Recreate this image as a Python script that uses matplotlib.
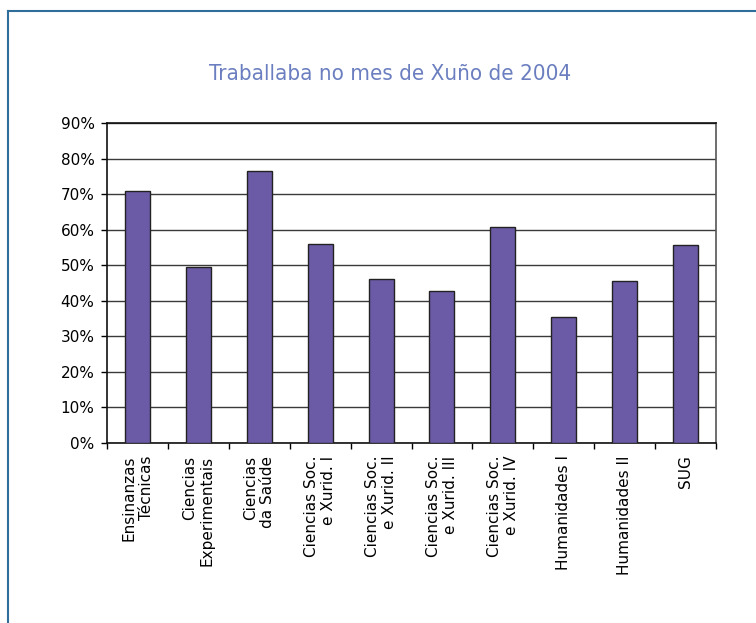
import matplotlib
matplotlib.use("Agg")
import matplotlib.pyplot as plt
from matplotlib.lines import Line2D
from matplotlib.ticker import FuncFormatter
from matplotlib import font_manager

# Chart data
categories = ["Ensinanzas\nTécnicas", "Ciencias\nExperimentais", "Ciencias\nda Saúde",
              "Ciencias Soc.\ne Xurid. I", "Ciencias Soc.\ne Xurid. II",
              "Ciencias Soc.\ne Xurid. III", "Ciencias Soc.\ne Xurid. IV",
              "Humanidades I", "Humanidades II", "SUG"]
values = [70.9, 49.4, 76.5, 55.9, 46.1, 42.7, 60.7, 35.4, 45.5, 55.6]
yticks = [0, 10, 20, 30, 40, 50, 60, 70, 80, 90]

title = "Traballaba no mes de Xuño de 2004"

fig = plt.figure(figsize=(7.56, 6.23), dpi=100)
W, H = 756, 623

left, right, top, bottom = 107, 716, 123, 443
ax = fig.add_axes([left / W, 1 - bottom / H, (right - left) / W, (bottom - top) / H])

# Outer frame: only top and left edges are visible
frame_color = "#2f6e9a"
fig.add_artist(Line2D([8 / W, 1.0], [1 - 11 / H, 1 - 11 / H], color=frame_color, lw=1.5,
                      transform=fig.transFigure))
fig.add_artist(Line2D([8 / W, 8 / W], [0.0, 1 - 11 / H], color=frame_color, lw=1.5,
                      transform=fig.transFigure))

x = list(range(len(categories)))
ax.bar(x, values, width=0.41, color="#6b5aa6", edgecolor="#222222", linewidth=1.0, zorder=3)

ax.set_xlim(-0.5, len(categories) - 0.5)
ax.set_ylim(0, 90)
ax.set_yticks(yticks)
ax.yaxis.set_major_formatter(FuncFormatter(lambda v, p: "{:d}%".format(int(v))))
ax.grid(axis="y", color="#3a3a3a", linewidth=1.0, zorder=1)

# Category labels, ticks between the categories
ax.set_xticks([i + 0.5 for i in range(-1, len(categories))])
ax.set_xticklabels([])
ax.set_xticks(x, minor=True)
ax.set_xticklabels(categories, minor=True, rotation=90, ha="center", va="top",
                   multialignment="right", fontsize=11)
ax.tick_params(axis="x", which="minor", length=0, pad=9)
ax.tick_params(axis="x", which="major", length=4, width=1, direction="out")
ax.tick_params(axis="y", length=4, width=1, direction="out", labelsize=11, pad=5)

for side in ["left", "bottom", "top", "right"]:
    ax.spines[side].set_color("#111111")
    ax.spines[side].set_linewidth(1.2)
ax.spines["right"].set_color("#555555")

# Title in a narrow face
title_fp = font_manager.FontProperties(family="DejaVu Sans", stretch="condensed", size=16)
fig.text(390 / W, 1 - 74 / H, title, ha="center", va="center",
         color="#6b7fc0", fontproperties=title_fp)

fig.savefig("out.png", dpi=100, facecolor="white")
